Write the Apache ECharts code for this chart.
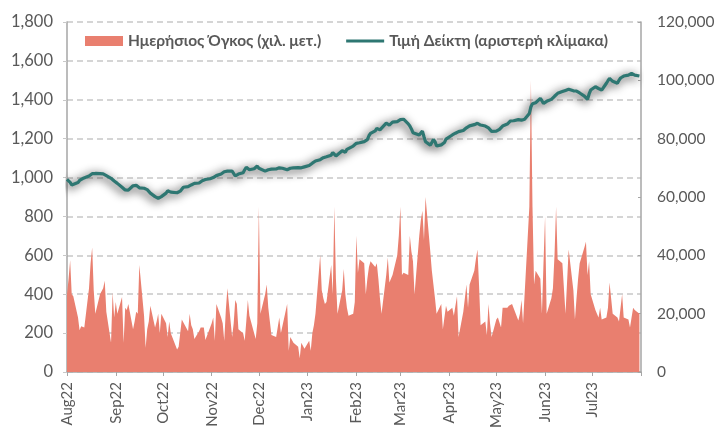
<!DOCTYPE html>
<html>
<head>
<meta charset="utf-8">
<script src="https://cdn.jsdelivr.net/npm/echarts@6/dist/echarts.min.js"></script>
<style>
    html, body { margin: 0; padding: 0; background: #fff; }
    #chart { width: 718px; height: 427px; }
</style>
</head>
<body>
<div id="chart"></div>
<script>
    // weekday closes of the index, Aug 2022 - Jul 2023 (one row = one week)
    const indexValues = [
        991, 987, 975, 962, 968,
        974, 985, 991, 995, 1001,
        1008, 1015, 1020, 1022, 1021,
        1020, 1018, 1019, 1018, 1010,
        996, 990, 982, 975, 970,
        950, 940, 936, 932, 935,
        958, 965, 960, 950, 947,
        945, 946, 938, 936, 920,
        902, 895, 893, 897, 902,
        920, 932, 930, 925, 922,
        922, 927, 930, 940, 950,
        953, 958, 962, 966, 970,
        972, 978, 984, 984, 990,
        994, 996, 1000, 1005, 1010,
        1018, 1025, 1030, 1032, 1033,
        1033, 1028, 1008, 1012, 1018,
        1025, 1040, 1053, 1050, 1040,
        1045, 1052, 1059, 1048, 1040,
        1033, 1036, 1040, 1044, 1043,
        1044, 1046, 1050, 1053, 1048,
        1040, 1044, 1048, 1051, 1050,
        1051, 1052, 1050, 1051, 1055,
        1062, 1068, 1074, 1080, 1085,
        1092, 1099, 1102, 1105, 1107,
        1115, 1128, 1120, 1111, 1120,
        1138, 1132, 1130, 1145, 1155,
        1162, 1170, 1176, 1172, 1179,
        1185, 1188, 1195, 1215, 1227,
        1240, 1253, 1250, 1245, 1250,
        1280, 1287, 1270, 1275, 1285,
        1288, 1292, 1298, 1305, 1300,
        1276, 1265, 1250, 1231, 1228,
        1219, 1225, 1239, 1210, 1184,
        1167, 1180, 1196, 1185, 1162,
        1168, 1165, 1180, 1198, 1205,
        1219, 1225, 1228, 1232, 1236,
        1242, 1250, 1256, 1262, 1266,
        1272, 1277, 1279, 1275, 1270,
        1265, 1262, 1255, 1245, 1238,
        1239, 1242, 1248, 1255, 1265,
        1275, 1285, 1291, 1290, 1292,
        1298, 1300, 1295, 1291, 1300,
        1330, 1364, 1380, 1390, 1385,
        1407, 1395, 1381, 1385, 1392,
        1402, 1410, 1418, 1428, 1433,
        1442, 1445, 1448, 1452, 1454,
        1446, 1448, 1445, 1440, 1435,
        1419, 1410, 1402, 1430, 1450,
        1467, 1462, 1458, 1452, 1450,
        1485, 1498, 1510, 1505, 1495,
        1485, 1500, 1512, 1519, 1522,
        1527, 1532, 1536, 1530, 1527,
        1522
    ];

    // daily volume, thousand shares
    const volumeValues = [
        26700, 32000, 38300, 26700, 26000,
        18700, 14300, 15700, 16000, 15300,
        28700, 37300, 42700, 28000, 20000,
        26700, 26300, 28700, 31300, 20700,
        10000, 27300, 18700, 24000, 20000,
        25700, 10000, 22000, 21300, 23300,
        14700, 17300, 20700, 20000, 36700,
        19300, 8300, 14700, 17300, 22700,
        15300, 17300, 20000, 13300, 20000,
        16700, 12000, 17300, 13300, 13300,
        7700, 8700, 9300, 18000, 18000,
        14000, 20000, 16000, 14700, 11300,
        14000, 15300, 15300, 15300, 11000,
        15300, 16700, 18700, 10700, 23300,
        18700, 16700, 10700, 21300, 28700,
        12000, 16700, 24700, 23300, 14700,
        13300, 10700, 17300, 24700, 19300,
        13300, 11300, 16700, 56700, 20000,
        26700, 30000, 22000, 17300, 12700,
        12000, 12000, 18700, 13300, 13300,
        23300, 7300, 12000, 12000, 10000,
        8700, 4700, 10000, 10000, 8000,
        10700, 7300, 13300, 16000, 20000,
        40000, 28000, 25300, 23300, 24000,
        36700, 26700, 56700, 32000, 20000,
        28000, 35300, 26700, 22000, 19300,
        20000, 24000, 46700, 34000, 38700,
        37300, 26700, 32000, 36000, 38000,
        36000, 37300, 32000, 25300, 20000,
        33300, 39300, 30700, 32000, 33300,
        40000, 46700, 56700, 33300, 34000,
        33300, 46700, 41300, 38000, 26700,
        46700, 52000, 55300, 45300, 60000,
        41300, 34700, 30000, 25300, 20000,
        23300, 14700, 18700, 22700, 20700,
        22000, 19300, 22700, 26000, 12000,
        20700, 25300, 30000, 22000, 30000,
        34700, 38700, 42000, 30000, 16000,
        17300, 12700, 23300, 16700, 12000,
        18000, 18700, 18700, 15300, 22000,
        22000, 22700, 23000, 23300, 22700,
        17700, 20000, 24700, 16700, 17300,
        56700, 100000, 56700, 30000, 34700,
        32000, 20000, 37300, 53300, 20000,
        25300, 28700, 40000, 56700, 38700,
        37300, 37300, 20000, 20000, 42000,
        28000, 18000, 25300, 32000, 37300,
        42700, 44700, 33300, 38000, 26700,
        21300, 20000, 18700, 22000, 18000,
        18700, 22000, 30700, 25300, 20000,
        18700, 17300, 22000, 26700, 18700,
        18000, 15300, 18700, 22000, 21300,
        20000
    ];

    const monthNames = ['Jan', 'Feb', 'Mar', 'Apr', 'May', 'Jun', 'Jul', 'Aug', 'Sep', 'Oct', 'Nov', 'Dec'];
    const seriesNames = ['Ημερήσιος Όγκος (χιλ. μετ.)', 'Τιμή Δείκτη (αριστερή κλίμακα)'];

    const startDate = new Date(2022, 7, 1);
    const endDate = new Date(2023, 7, 1);

    // weekdays from the start date, one per value
    const tradingDays = [];
    for (let d = new Date(startDate); tradingDays.length < indexValues.length; d.setDate(d.getDate() + 1)) {
        if (d.getDay() !== 0 && d.getDay() !== 6) {
            tradingDays.push(d.getTime());
        }
    }

    const textColor = '#595959';
    const axisColor = '#a6a6a6';
    const fontFamily = 'Lato, "Noto Sans", sans-serif';
    const fmt = v => v.toLocaleString('en-US');

    const chart = echarts.init(document.getElementById('chart'));
    chart.setOption({
        backgroundColor: '#ffffff',
        animation: false,
        textStyle: {fontFamily: fontFamily},
        grid: {
            left: 67,
            right: 77,
            top: 22,
            bottom: 55,
            outerBoundsMode: 'none'
        },
        legend: {
            left: 80,
            top: 28,
            itemWidth: 38,
            itemHeight: 10,
            itemGap: 25,
            textStyle: {
                color: textColor,
                fontSize: 15.5,
                fontWeight: 'bold',
                fontFamily: fontFamily
            },
            data: [
                {name: seriesNames[0], icon: 'rect'},
                {name: seriesNames[1], icon: 'path://M0,0 H38 V3 H0 Z'}
            ]
        },
        xAxis: {
            type: 'time',
            min: startDate.getTime(),
            max: endDate.getTime(),
            splitNumber: 12,
            minInterval: 28 * 86400000,
            maxInterval: 31 * 86400000,
            axisLine: {lineStyle: {color: axisColor, width: 1.5}},
            axisTick: {show: true, length: 4, lineStyle: {color: axisColor}},
            splitLine: {show: false},
            axisLabel: {
                rotate: 90,
                color: textColor,
                fontSize: 15,
                margin: 10,
                showMaxLabel: false,
                formatter: function (val) {
                    const d = new Date(val);
                    if (d.getTime() >= endDate.getTime()) {
                        return '';
                    }
                    return monthNames[d.getMonth()] + String(d.getFullYear()).slice(2);
                }
            }
        },
        yAxis: [{
            type: 'value',
            min: 0,
            max: 1800,
            interval: 200,
            axisLine: {show: true, lineStyle: {color: axisColor, width: 1.5}},
            axisTick: {show: true, length: 4, lineStyle: {color: '#c8c8c8'}},
            axisLabel: {color: textColor, fontSize: 16.5, margin: 14, formatter: fmt},
            splitLine: {
                show: true,
                lineStyle: {color: '#c8c8c8', type: [6, 4], width: 1.5}
            }
        }, {
            type: 'value',
            position: 'right',
            min: 0,
            max: 120000,
            interval: 20000,
            axisLine: {show: true, lineStyle: {color: axisColor, width: 1.5}},
            axisTick: {show: true, inside: true, length: 3, lineStyle: {color: axisColor}},
            axisLabel: {color: textColor, fontSize: 15.5, margin: 16, formatter: fmt},
            splitLine: {show: false}
        }],
        series: [{
            name: seriesNames[0],
            type: 'line',
            yAxisIndex: 1,
            symbol: 'none',
            color: '#e97f6f',
            lineStyle: {width: 0},
            areaStyle: {color: '#e97f6f', opacity: 1},
            data: tradingDays.map((t, i) => [t, volumeValues[i]])
        }, {
            name: seriesNames[1],
            type: 'line',
            yAxisIndex: 0,
            symbol: 'none',
            color: '#2e7772',
            lineStyle: {
                width: 3.2,
                color: '#2e7772',
                shadowColor: 'rgba(0, 0, 0, 0.9)',
                shadowBlur: 10,
                shadowOffsetX: -2,
                shadowOffsetY: 2
            },
            data: tradingDays.map((t, i) => [t, indexValues[i]])
        }]
    });
</script>
</body>
</html>
